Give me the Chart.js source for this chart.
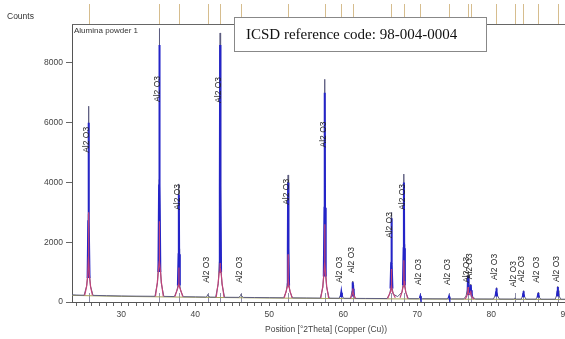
<!DOCTYPE html>
<html lang="en">
<head>
<meta charset="UTF-8">
<title>Alumina powder 1</title>
<script src="https://cdn.jsdelivr.net/npm/chart.js"></script>
<style>
    body { margin: 0; background: #fff; overflow: hidden; }
    .wrap { position: relative; width: 565px; height: 339px; overflow: hidden; }
    #xrd { position: absolute; left: 0; top: 0; }
    .counts { position: absolute; left: 7px; top: 11px; font: 8.5px "Liberation Sans", Arial, sans-serif; color: #333; }
    .sample { position: absolute; left: 74px; top: 26px; font: 8px "Liberation Sans", Arial, sans-serif; color: #333; }
    .icsd { position: absolute; left: 234px; top: 17px; width: 253px; height: 35px; box-sizing: border-box;
            border: 1px solid #888; background: #fff; color: #111; padding-left: 11px;
            font: 15px "Liberation Serif", "Times New Roman", serif; line-height: 33px; }
</style>
</head>
<body>
<div class="wrap">
    <canvas id="xrd" width="585" height="339"></canvas>
    <div class="counts">Counts</div>
    <div class="sample">Alumina powder 1</div>
    <div class="icsd">ICSD reference code: 98-004-0004</div>
</div>

<script>
// reference peak positions (ICSD 98-004-0004) and where the phase label sits
const phaseName = 'Al2 O3';
const peakAngle = [25.58, 35.15, 37.78, 41.68, 43.36, 46.18, 52.55, 57.50, 59.74, 61.30, 66.52,
                   68.20, 70.42, 74.30, 76.87, 77.23, 80.70, 83.21, 84.36, 86.36, 88.99];
const labelBase = [4990, 6690, 3080, 640, 6660, 640, 3250, 5170, 640, 970, 2140,
                   3080, 570, 570, 640, 760, 740, 500, 670, 640, 670];

const yTicks = [0, 2000, 4000, 6000, 8000];
const xTickLabels = [30, 40, 50, 60, 70, 80, 90];

// measured scan [2theta, counts]
const observed = [
    [23.34, 240], [24.0, 232], [24.98, 226],
    [25.33, 550], [25.48, 1000], [25.55, 2950], [25.58, 6550], [25.61, 2950], [25.68, 1000], [25.83, 540], [26.18, 222],
    [28.0, 212], [30.0, 202], [32.0, 196], [34.55, 191],
    [34.9, 650], [35.05, 1370], [35.12, 4100], [35.15, 9150], [35.18, 4100], [35.25, 1370], [35.4, 640], [35.75, 188],
    [37.18, 182],
    [37.53, 380], [37.68, 600], [37.75, 1780], [37.78, 3950], [37.81, 1780], [37.88, 600], [38.03, 370], [38.38, 178],
    [40.0, 172], [41.4, 166], [41.6, 205], [41.68, 250], [41.76, 200], [42.0, 164], [42.76, 162],
    [43.11, 610], [43.26, 1350], [43.33, 4050], [43.36, 9000], [43.39, 4050], [43.46, 1350], [43.61, 600], [43.96, 158],
    [45.9, 155], [46.1, 210], [46.18, 260], [46.26, 205], [46.5, 154],
    [48.0, 150], [50.0, 145], [51.95, 141],
    [52.3, 350], [52.45, 640], [52.52, 1910], [52.55, 4250], [52.58, 1910], [52.65, 640], [52.8, 345], [53.15, 139],
    [55.0, 135], [56.9, 131],
    [57.25, 500], [57.4, 1120], [57.47, 3350], [57.5, 7450], [57.53, 3350], [57.6, 1120], [57.75, 495], [58.1, 129],
    [59.45, 126], [59.64, 230], [59.74, 330], [59.84, 225], [60.05, 124],
    [61.0, 123], [61.2, 380], [61.27, 560], [61.3, 700], [61.33, 560], [61.4, 370], [61.6, 121],
    [63.0, 119], [65.92, 116],
    [66.27, 265], [66.42, 450], [66.49, 1350], [66.52, 3000], [66.55, 1350], [66.62, 450], [66.77, 260], [67.35, 180],
    [67.95, 330], [68.1, 640], [68.17, 1930], [68.2, 4280], [68.23, 1930], [68.3, 640], [68.45, 325], [68.8, 111],
    [70.15, 110], [70.34, 150], [70.42, 200], [70.5, 150], [70.7, 109],
    [72.0, 107], [74.02, 105], [74.22, 145], [74.3, 190], [74.38, 145], [74.6, 104],
    [76.3, 103], [76.6, 200], [76.77, 400], [76.87, 900], [76.97, 450], [77.05, 380], [77.15, 420], [77.23, 600], [77.33, 300], [77.55, 150], [77.9, 101],
    [80.3, 100], [80.55, 220], [80.65, 350], [80.7, 480], [80.75, 350], [80.85, 210], [81.1, 99],
    [83.0, 98], [83.21, 130], [83.4, 97],
    [84.05, 97], [84.23, 190], [84.32, 300], [84.36, 380], [84.4, 300], [84.49, 185], [84.7, 96],
    [86.05, 96], [86.23, 170], [86.32, 250], [86.36, 320], [86.4, 250], [86.49, 165], [86.7, 95],
    [88.65, 95], [88.84, 220], [88.94, 380], [88.99, 520], [89.04, 380], [89.14, 215], [89.4, 94],
    [91.0, 92], [92.0, 90]
];

// blue profile (peaks only, null = gap)
const fitted = [
    [25.45, 800], [25.54, 2700], [25.58, 6000], [25.62, 2700], [25.71, 800], [25.8, null],
    [35.02, 1000], [35.11, 3900], [35.15, 8600], [35.19, 3900], [35.28, 1000], [35.4, null],
    [37.65, 550], [37.74, 1600], [37.78, 3600], [37.82, 1600], [37.91, 550], [38.0, null],
    [43.23, 1000], [43.32, 3900], [43.36, 8600], [43.40, 3900], [43.49, 1000], [43.6, null],
    [52.42, 550], [52.51, 1800], [52.55, 4000], [52.59, 1800], [52.68, 550], [52.8, null],
    [57.37, 850], [57.46, 3150], [57.50, 7000], [57.54, 3150], [57.63, 850], [57.8, null],
    [59.66, 160], [59.74, 310], [59.82, 160], [59.9, null],
    [61.19, 220], [61.26, 440], [61.30, 660], [61.34, 440], [61.41, 220], [61.5, null],
    [66.39, 450], [66.48, 1300], [66.52, 2800], [66.56, 1300], [66.65, 450], [66.8, null],
    [68.07, 560], [68.16, 1800], [68.20, 4000], [68.24, 1800], [68.33, 560], [68.5, null],
    [70.36, 130], [70.42, 185], [70.48, 130], [70.6, null],
    [74.24, 125], [74.30, 175], [74.36, 125], [74.5, null],
    [76.74, 270], [76.83, 520], [76.87, 870], [76.92, 520], [77.02, 340], [77.12, 340], [77.19, 410], [77.23, 570], [77.28, 390], [77.37, 180], [77.5, null],
    [80.59, 190], [80.66, 330], [80.70, 460], [80.74, 330], [80.81, 190], [80.9, null],
    [84.26, 165], [84.33, 270], [84.36, 360], [84.39, 270], [84.46, 165], [84.6, null],
    [86.26, 155], [86.33, 240], [86.36, 305], [86.39, 240], [86.46, 155], [86.6, null],
    [88.89, 190], [88.96, 350], [88.99, 500], [89.02, 350], [89.09, 190]
];

// red / purple peak bases
const shoulder = [
    [25.05, 225], [25.30, 500], [25.46, 850], [25.56, 1500], [25.58, 3000], [25.60, 1500], [25.70, 850], [25.86, 500], [26.11, 224], [26.2, null],
    [34.62, 190], [34.87, 650], [35.03, 1100], [35.13, 1350], [35.15, 2700], [35.17, 1350], [35.27, 1100], [35.43, 640], [35.68, 189], [35.8, null],
    [37.25, 180], [37.50, 380], [37.66, 480], [37.76, 600], [37.78, 1150], [37.80, 600], [37.90, 480], [38.06, 375], [38.31, 179], [38.4, null],
    [42.83, 160], [43.08, 610], [43.24, 1000], [43.34, 1150], [43.36, 1300], [43.38, 1150], [43.48, 1000], [43.64, 600], [43.89, 158], [44.0, null],
    [52.02, 140], [52.27, 350], [52.43, 510], [52.53, 800], [52.55, 1600], [52.57, 800], [52.67, 510], [52.83, 345], [53.08, 139], [53.2, null],
    [56.97, 130], [57.22, 500], [57.38, 900], [57.48, 1300], [57.50, 2600], [57.52, 1300], [57.62, 900], [57.78, 495], [58.03, 129], [58.1, null],
    [60.95, 122], [61.14, 200], [61.24, 300], [61.30, 450], [61.36, 300], [61.46, 200], [61.65, 121], [61.7, null],
    [66.0, 115], [66.25, 265], [66.41, 360], [66.50, 550], [66.52, 1100], [66.54, 550], [66.63, 360], [66.79, 260], [67.04, 140], [67.1, null],
    [67.68, 140], [67.93, 325], [68.09, 510], [68.18, 700], [68.20, 1400], [68.22, 700], [68.31, 510], [68.47, 320], [68.72, 111], [68.8, null],
    [76.50, 102], [76.70, 200], [76.81, 300], [76.87, 500], [76.93, 300], [77.05, 250], [77.17, 280], [77.23, 380], [77.31, 220], [77.50, 130], [77.70, 101]
];

// fitted background
const background = [[23.34, 222], [30, 188], [40, 158], [50, 133], [60, 114], [70, 100], [80, 90], [92, 80]];

const toXY = pts => pts.map(p => ({ x: p[0], y: p[1] }));

// sticks on top, reference lines, phase labels
const xrdDecor = {
    id: 'xrdDecor',
    beforeDatasetsDraw(chart) {
        const { ctx, scales: { x, y } } = chart;
        ctx.save();
        ctx.strokeStyle = '#8c8ca8';
        ctx.lineWidth = 1;
        peakAngle.forEach(a => {
            const px = Math.round(x.getPixelForValue(a)) + 0.5;
            ctx.beginPath();
            ctx.moveTo(px, y.getPixelForValue(0));
            ctx.lineTo(px, y.getPixelForValue(300));
            ctx.stroke();
        });
        ctx.restore();
    },
    afterDatasetsDraw(chart) {
        const { ctx, chartArea, scales: { x, y } } = chart;
        ctx.save();
        ctx.font = '8.5px "Liberation Sans", Arial, sans-serif';
        ctx.fillStyle = '#222';
        ctx.textAlign = 'left';
        ctx.textBaseline = 'middle';
        peakAngle.forEach((a, i) => {
            ctx.save();
            ctx.translate(x.getPixelForValue(a) - 1.5, y.getPixelForValue(labelBase[i]));
            ctx.rotate(-Math.PI / 2);
            ctx.fillText(phaseName, 0, 0);
            ctx.restore();
        });

        ctx.strokeStyle = '#d6bd8e';
        ctx.lineWidth = 1;
        peakAngle.forEach(a => {
            const px = Math.round(x.getPixelForValue(a)) + 0.5;
            ctx.beginPath();
            ctx.moveTo(px, 4);
            ctx.lineTo(px, chartArea.top);
            ctx.stroke();
        });

        ctx.strokeStyle = '#666';
        ctx.beginPath();
        ctx.moveTo(chartArea.left, chartArea.top + 0.5);
        ctx.lineTo(chartArea.right, chartArea.top + 0.5);
        ctx.stroke();
        ctx.restore();
    }
};

const axisFont = { family: '"Liberation Sans", Arial, sans-serif', size: 8.5 };

new Chart(document.getElementById('xrd'), {
    type: 'line',
    data: {
        datasets: [
            { data: toXY(shoulder), borderColor: '#c24379', borderWidth: 1.2, order: 1 },
            { data: toXY(fitted), borderColor: '#2424c8', borderWidth: 2, order: 2 },
            { data: toXY(observed), borderColor: '#5e5e80', borderWidth: 1, order: 3 },
            { data: toXY(background), borderColor: '#a3a35a', borderWidth: 1, order: 4 }
        ]
    },
    options: {
        responsive: false,
        animation: false,
        spanGaps: false,
        elements: { point: { radius: 0 }, line: { tension: 0 } },
        layout: { padding: { top: 24, right: 5, left: 0, bottom: 0 } },
        plugins: { legend: { display: false }, tooltip: { enabled: false } },
        scales: {
            x: {
                type: 'linear',
                min: 23.34,
                max: 92,
                afterFit: s => { s.height = 37; },
                border: { color: '#555', width: 1 },
                grid: { drawOnChartArea: false, drawTicks: true, tickLength: 4, tickColor: '#666' },
                ticks: {
                    stepSize: 1,
                    autoSkip: false,
                    maxRotation: 0,
                    includeBounds: false,
                    padding: 4,
                    color: '#444',
                    font: axisFont,
                    callback: v => (xTickLabels.includes(Math.round(v)) && Math.abs(v - Math.round(v)) < 1e-6 ? Math.round(v) : '')
                },
                title: {
                    display: true,
                    text: 'Position [°2Theta] (Copper (Cu))',
                    color: '#444',
                    font: axisFont,
                    padding: { top: 0, bottom: 4 }
                }
            },
            y: {
                min: 0,
                max: 9300,
                afterFit: s => { s.width = 72; },
                afterBuildTicks: s => { s.ticks = yTicks.map(v => ({ value: v })); },
                border: { color: '#555', width: 1 },
                grid: { drawOnChartArea: false, drawTicks: true, tickLength: 6, tickColor: '#666' },
                ticks: { padding: 3, color: '#444', font: axisFont, callback: v => String(v) }
            }
        }
    },
    plugins: [xrdDecor]
});
</script>
</body>
</html>
